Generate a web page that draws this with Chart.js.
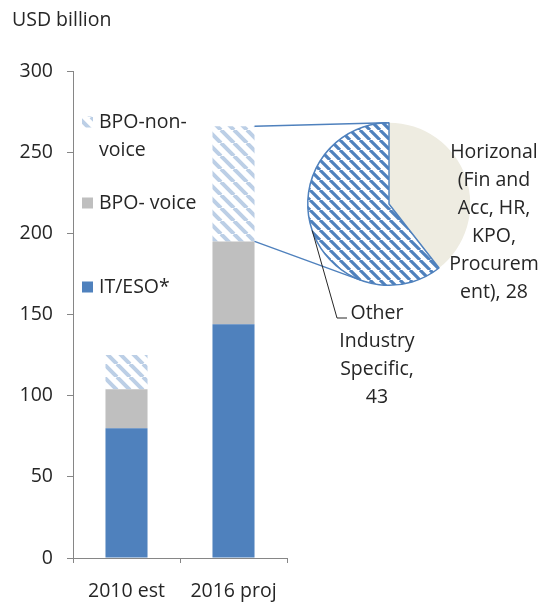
<!DOCTYPE html>
<html>
<head>
<meta charset="utf-8">
<script src="https://cdn.jsdelivr.net/npm/chart.js@4"></script>
<style>
  html, body { margin: 0; padding: 0; background: #fff; }
  #wrap { position: relative; width: 540px; height: 602px; overflow: hidden; }
  #wrap canvas { position: absolute; left: 0; top: 0; }
</style>
</head>
<body>
<div id="wrap">
  <canvas id="bars" width="540" height="602"></canvas>
  <canvas id="pie" width="540" height="602"></canvas>
</div>
<script>
// ---- data ----
const categories = ['2010 est', '2016 proj'];
const seriesNames = ['IT/ESO*', 'BPO- voice', 'BPO-non-voice'];
const itEso = [80, 144];
const bpoVoice = [24, 51];
const bpoNonVoice = [21, 71];
const yTicks = [0, 50, 100, 150, 200, 250, 300];
const splitNames = ['Horizonal (Fin and Acc, HR, KPO, Procurement)', 'Other Industry Specific'];
const splitValues = [28, 43];
const unitLabel = 'USD billion';

// ---- styling ----
const FONT = "'Open Sans', sans-serif";
const FSIZE = 19.5;
const TEXT = '#262626';
const AXIS = '#868686';
const BLUE = '#4f81bd';
const GREY = '#bfbfbf';
const BEIGE = '#eeece1';

function hatch(ctx, color, size, width) {
  const tile = document.createElement('canvas');
  tile.width = tile.height = size;
  const g = tile.getContext('2d');
  g.strokeStyle = color;
  g.lineWidth = width;
  g.beginPath();
  for (let k = -1; k <= 1; k++) {
    g.moveTo(k * size, 0);
    g.lineTo(k * size + size, size);
  }
  g.stroke();
  return ctx.createPattern(tile, 'repeat');
}

// split a word that is wider than the line on its own
function breakWord(ctx, w, maxW, lines) {
  while (ctx.measureText(w).width > maxW) {
    let n = w.length;
    while (n > 1 && ctx.measureText(w.slice(0, n)).width > maxW) n--;
    lines.push(w.slice(0, n));
    w = w.slice(n);
  }
  return w;
}

// greedy wrap: breaks at spaces / after hyphens, splits over-long words
function wrap(ctx, text, maxW) {
  const tokens = text.match(/[^\s-]+-?|\s+|-/g) || [];
  const lines = [];
  let cur = '';
  for (const tok of tokens) {
    const trial = cur + tok;
    if (cur.trim() === '') {
      cur = breakWord(ctx, tok.trim() === '' ? '' : tok.trimStart(), maxW, lines);
    } else if (ctx.measureText(trial.trimEnd()).width <= maxW) {
      cur = trial;
    } else {
      lines.push(cur.trim());
      cur = breakWord(ctx, tok.trimStart(), maxW, lines);
    }
  }
  if (cur.trim() !== '') lines.push(cur.trim());
  return lines;
}

const barCtx = document.getElementById('bars').getContext('2d');
const barHatch = hatch(barCtx, '#bccfe6', 13, 4);

// legend entries stacked inside the plot, top to bottom
const legendRows = [122, 203, 287];
const sideDecor = {
  id: 'sideDecor',
  afterDraw(chart) {
    const ctx = chart.ctx;
    ctx.save();
    ctx.font = FSIZE + 'px ' + FONT;
    ctx.fillStyle = TEXT;
    ctx.textBaseline = 'middle';
    ctx.textAlign = 'left';
    ctx.fillText(unitLabel, 12, 20);

    const ds = chart.data.datasets.slice().reverse();
    const mx = chart.chartArea.left + 9;
    ds.forEach((d, i) => {
      const y = legendRows[i];
      ctx.fillStyle = d.backgroundColor;
      ctx.fillRect(mx, y - 5.5, 11, 11);
      ctx.fillStyle = TEXT;
      const lines = wrap(ctx, d.label, 110);
      lines.forEach((ln, j) => ctx.fillText(ln, mx + 17, y + j * 28));
    });
    ctx.restore();
  }
};

const barChart = new Chart(barCtx, {
  type: 'bar',
  data: {
    labels: categories,
    datasets: [
      { label: seriesNames[0], data: itEso, backgroundColor: BLUE },
      { label: seriesNames[1], data: bpoVoice, backgroundColor: GREY },
      { label: seriesNames[2], data: bpoNonVoice, backgroundColor: barHatch }
    ]
  },
  options: {
    responsive: false,
    animation: false,
    devicePixelRatio: 1,
    layout: { padding: { left: 0, top: 71, right: 253, bottom: 0 } },
    datasets: { bar: { barPercentage: 0.393, categoryPercentage: 1, borderWidth: 0 } },
    plugins: { legend: { display: false }, tooltip: { enabled: false } },
    scales: {
      x: {
        stacked: true,
        grid: { offset: true, drawOnChartArea: false, tickLength: 5, color: AXIS },
        border: { color: AXIS },
        ticks: { font: { family: FONT, size: FSIZE }, color: TEXT, padding: 17, maxRotation: 0 },
        afterFit(s) { s.height = 44; }
      },
      y: {
        stacked: true,
        min: yTicks[0],
        max: yTicks[yTicks.length - 1],
        ticks: { stepSize: yTicks[1] - yTicks[0], font: { family: FONT, size: FSIZE }, color: TEXT, padding: 14 },
        grid: { drawOnChartArea: false, tickLength: 6, color: AXIS },
        border: { color: AXIS },
        afterFit(s) { s.width = 73; }
      }
    }
  },
  plugins: [sideDecor]
});

const pieCtx = document.getElementById('pie').getContext('2d');
const pieHatch = hatch(pieCtx, BLUE, 10, 3.2);

// connectors from the split bar segment, leader line and slice labels
const pieDecor = {
  id: 'pieDecor',
  afterDraw(chart) {
    const ctx = chart.ctx;
    const arcs = chart.getDatasetMeta(0).data;
    const cx = arcs[0].x, cy = arcs[0].y, r = arcs[0].outerRadius;

    const seg = barChart.getDatasetMeta(2).data[1];
    const px = seg.x + seg.width / 2;
    const tangent = (p, wantLower) => {
      const dx = p.x - cx, dy = p.y - cy;
      const d = Math.hypot(dx, dy);
      const phi = Math.atan2(dy, dx), a = Math.acos(r / d);
      const t1 = { x: cx + r * Math.cos(phi + a), y: cy + r * Math.sin(phi + a) };
      const t2 = { x: cx + r * Math.cos(phi - a), y: cy + r * Math.sin(phi - a) };
      return (t1.y > t2.y) === wantLower ? t1 : t2;
    };
    const pTop = { x: px, y: seg.y };
    const pBot = { x: px, y: seg.base };
    const tTop = tangent(pTop, false);
    const tBot = tangent(pBot, true);

    ctx.save();
    ctx.strokeStyle = BLUE;
    ctx.lineWidth = 1.4;
    ctx.beginPath();
    ctx.moveTo(pTop.x, pTop.y); ctx.lineTo(tTop.x, tTop.y);
    ctx.moveTo(pBot.x, pBot.y); ctx.lineTo(tBot.x, tBot.y);
    ctx.stroke();

    ctx.font = FSIZE + 'px ' + FONT;
    ctx.fillStyle = TEXT;
    ctx.textAlign = 'center';
    ctx.textBaseline = 'middle';

    // right-hand slice label
    const lab0 = wrap(ctx, splitNames[0] + ', ' + splitValues[0], 93);
    lab0.forEach((ln, j) => ctx.fillText(ln, cx + 105, cy - 52 + j * 28));

    // lower slice label with leader line
    const a1 = arcs[1];
    const mid = (a1.startAngle + a1.endAngle) / 2;
    ctx.strokeStyle = '#262626';
    ctx.lineWidth = 1;
    ctx.beginPath();
    ctx.moveTo(cx + r * Math.cos(mid), cy + r * Math.sin(mid));
    ctx.lineTo(cx - 52, cy + 114);
    ctx.lineTo(cx - 42, cy + 114);
    ctx.stroke();
    const lab1 = wrap(ctx, splitNames[1] + ', ' + splitValues[1], 93);
    lab1.forEach((ln, j) => ctx.fillText(ln, cx - 12, cy + 109 + j * 28));
    ctx.restore();
  }
};

new Chart(pieCtx, {
  type: 'pie',
  data: {
    labels: splitNames,
    datasets: [{
      data: splitValues,
      backgroundColor: [BEIGE, pieHatch],
      borderColor: ['rgba(0,0,0,0)', BLUE],
      borderWidth: [0, 1.5]
    }]
  },
  options: {
    responsive: false,
    animation: false,
    devicePixelRatio: 1,
    layout: { padding: { left: 307, right: 69, top: 122, bottom: 316 } },
    plugins: { legend: { display: false }, tooltip: { enabled: false } }
  },
  plugins: [pieDecor]
});
</script>
</body>
</html>
